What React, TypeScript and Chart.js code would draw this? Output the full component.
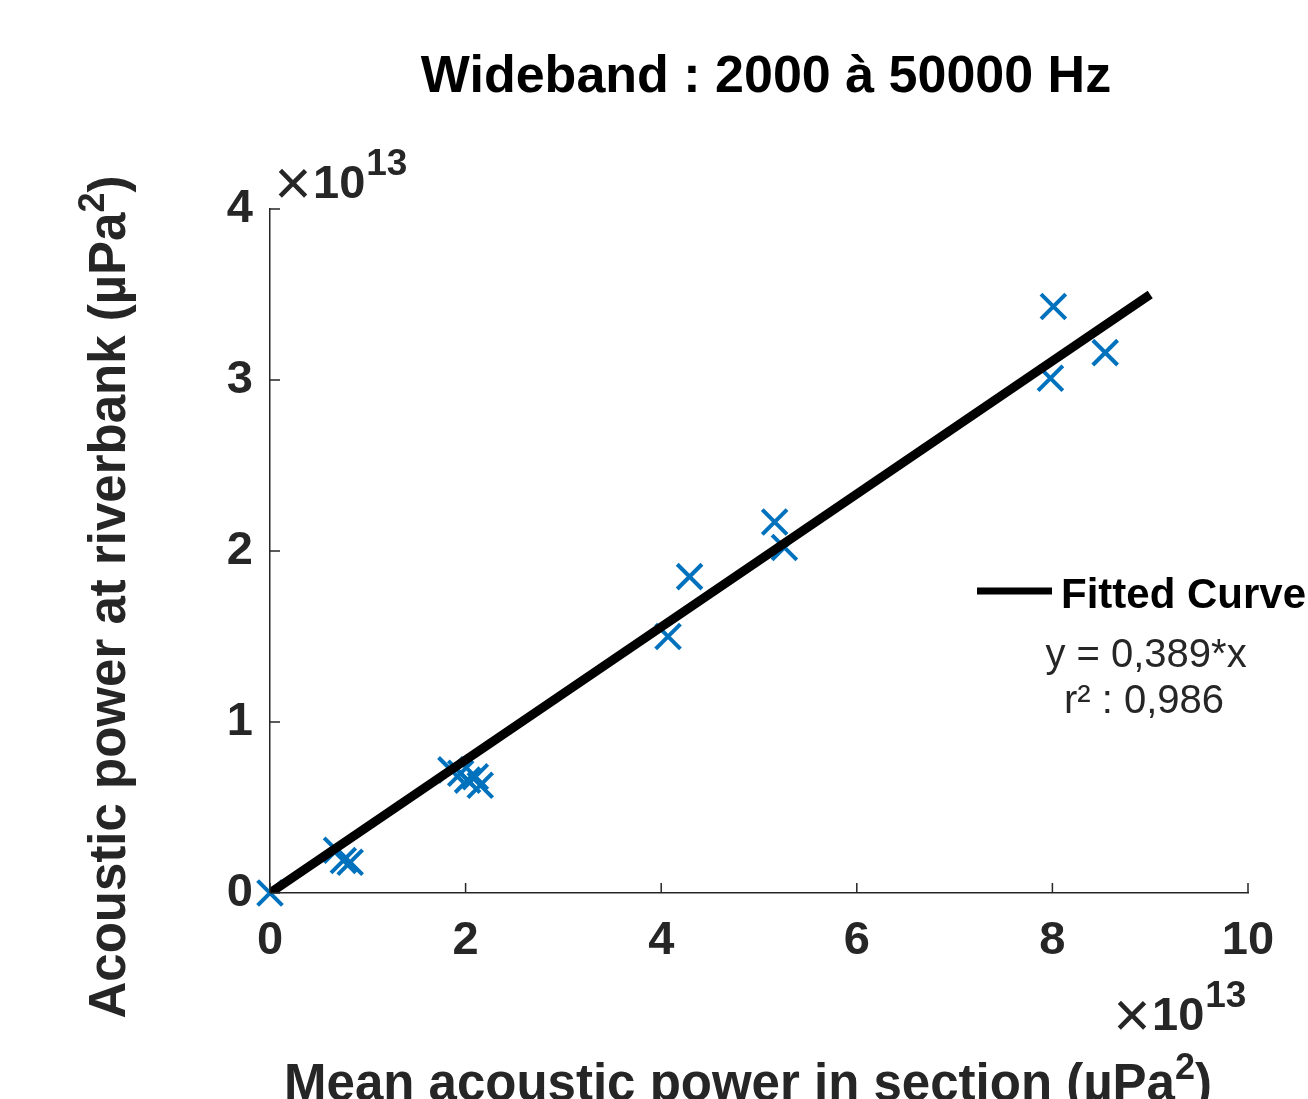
import React, { useEffect, useRef } from "react";
import { Chart, registerables } from "chart.js";

Chart.register(...registerables);

const TITLE = "Wideband : 2000 à 50000 Hz";
const X_LABEL = "Mean acoustic power in section (µPa";
const Y_LABEL = "Acoustic power at riverbank (µPa";
const LEGEND_LABEL = "Fitted Curve";
const FIT_TEXT = ["y = 0,389*x", "r² : 0,986"];

// values in units of 1e13 µPa²
const meanPower = [0, 0.68, 0.75, 0.82, 1.85, 1.95, 2.02, 2.1, 2.15, 4.07, 4.29, 5.16, 5.26, 7.98, 8.01, 8.54];
const bankPower = [0, 0.25, 0.19, 0.18, 0.72, 0.70, 0.66, 0.68, 0.63, 1.50, 1.85, 2.17, 2.02, 3.01, 3.43, 3.16];

const fitX = [0, 9];
const fitY = [0, 3.5];

const xTicks = [0, 2, 4, 6, 8, 10];
const yTicks = [0, 1, 2, 3, 4];

const FONT = '"Liberation Sans", Arial, Helvetica, sans-serif';
const AXIS_COLOR = "#262626";

function drawLabelWithSup(ctx: CanvasRenderingContext2D, main: string, sup: string, tail: string, size: number, supSize: number) {
  ctx.font = `bold ${size}px ${FONT}`;
  const w1 = ctx.measureText(main).width;
  const w3 = ctx.measureText(tail).width;
  ctx.font = `bold ${supSize}px ${FONT}`;
  const w2 = ctx.measureText(sup).width;
  const total = w1 + w2 + w3;
  let x = -total / 2;
  ctx.textAlign = "left";
  ctx.textBaseline = "alphabetic";
  ctx.font = `bold ${size}px ${FONT}`;
  ctx.fillText(main, x, 0);
  x += w1;
  ctx.font = `bold ${supSize}px ${FONT}`;
  ctx.fillText(sup, x, -size * 0.42);
  x += w2;
  ctx.font = `bold ${size}px ${FONT}`;
  ctx.fillText(tail, x, 0);
}

function drawExponent(ctx: CanvasRenderingContext2D, xTimes: number, xTen: number, baseline: number) {
  ctx.fillStyle = AXIS_COLOR;
  ctx.textAlign = "center";
  ctx.textBaseline = "middle";
  ctx.font = `64px ${FONT}`;
  ctx.fillText("×", xTimes, baseline - 11);
  ctx.textAlign = "left";
  ctx.textBaseline = "alphabetic";
  ctx.font = `bold 47px ${FONT}`;
  ctx.fillText("10", xTen, baseline);
  const w10 = ctx.measureText("10").width;
  ctx.font = `bold 37px ${FONT}`;
  ctx.fillText("13", xTen + w10 + 1, baseline - 23);
}

const decorPlugin = {
  id: "decor",
  afterDraw(chart: any) {
    const ctx: CanvasRenderingContext2D = chart.ctx;
    const xs = chart.scales.x;
    const ys = chart.scales.y;
    const area = chart.chartArea;
    ctx.save();
    // inward ticks
    ctx.strokeStyle = AXIS_COLOR;
    ctx.lineWidth = 1.5;
    ctx.beginPath();
    xTicks.forEach((v) => {
      const px = xs.getPixelForValue(v);
      ctx.moveTo(px, area.bottom);
      ctx.lineTo(px, area.bottom - 10);
    });
    yTicks.forEach((v) => {
      const py = ys.getPixelForValue(v);
      ctx.moveTo(area.left, py);
      ctx.lineTo(area.left + 10, py);
    });
    ctx.stroke();

    // title
    ctx.fillStyle = "#000";
    ctx.font = `bold 52px ${FONT}`;
    ctx.textAlign = "center";
    ctx.textBaseline = "alphabetic";
    ctx.fillText(TITLE, 766, 92);

    // x label
    ctx.fillStyle = AXIS_COLOR;
    ctx.save();
    ctx.translate(748, 1100);
    drawLabelWithSup(ctx, X_LABEL, "2", ")", 51, 36);
    ctx.restore();

    // y label
    ctx.save();
    ctx.translate(125, 597);
    ctx.rotate(-Math.PI / 2);
    drawLabelWithSup(ctx, Y_LABEL, "2", ")", 51, 36);
    ctx.restore();

    // exponents
    drawExponent(ctx, 293, 313, 198);
    drawExponent(ctx, 1132, 1152, 1030);

    // legend
    ctx.strokeStyle = "#000";
    ctx.lineWidth = 7;
    ctx.beginPath();
    ctx.moveTo(977, 591);
    ctx.lineTo(1052, 591);
    ctx.stroke();
    ctx.fillStyle = "#000";
    ctx.font = `bold 42px ${FONT}`;
    ctx.textAlign = "left";
    ctx.fillText(LEGEND_LABEL, 1061, 608);
    ctx.font = `40px ${FONT}`;
    ctx.textAlign = "center";
    ctx.fillStyle = AXIS_COLOR;
    ctx.fillText(FIT_TEXT[0], 1146, 667);
    ctx.fillText(FIT_TEXT[1], 1144, 713);
    ctx.restore();
  },
};

export default function App() {
  const ref = useRef<HTMLCanvasElement | null>(null);
  useEffect(() => {
    if (!ref.current) return;
    const chart = new Chart(ref.current, {
      type: "scatter",
      data: {
        datasets: [
          {
            type: "line",
            label: LEGEND_LABEL,
            data: fitX.map((x, i) => ({ x, y: fitY[i] })),
            borderColor: "#000",
            borderWidth: 9,
            pointRadius: 0,
            fill: false,
            order: 1,
          } as any,
          {
            label: "data",
            data: meanPower.map((x, i) => ({ x, y: bankPower[i] })),
            pointStyle: "crossRot",
            pointRadius: 17.5,
            borderColor: "#0072BD",
            backgroundColor: "#0072BD",
            pointBorderWidth: 4,
            borderWidth: 4,
            clip: false,
            order: 2,
          } as any,
        ],
      },
      options: {
        animation: false,
        responsive: false,
        devicePixelRatio: 1,
        layout: { padding: { top: 209, right: 60, left: 0, bottom: 0 } },
        plugins: { legend: { display: false }, tooltip: { enabled: false }, title: { display: false } },
        scales: {
          x: {
            type: "linear",
            min: 0,
            max: 10,
            afterFit: (s: any) => { s.height = 206; },
            afterBuildTicks: (s: any) => { s.ticks = xTicks.map((v) => ({ value: v })); },
            grid: { display: false, drawTicks: false },
            border: { display: true, color: AXIS_COLOR, width: 1.5 },
            ticks: { color: AXIS_COLOR, font: { family: FONT, size: 47, weight: "bold" }, padding: 20, maxRotation: 0 },
          },
          y: {
            type: "linear",
            min: 0,
            max: 4,
            afterFit: (s: any) => { s.width = 270; },
            afterBuildTicks: (s: any) => { s.ticks = yTicks.map((v) => ({ value: v })); },
            grid: { display: false, drawTicks: false },
            border: { display: true, color: AXIS_COLOR, width: 1.5 },
            ticks: { color: AXIS_COLOR, font: { family: FONT, size: 47, weight: "bold" }, padding: 17 },
          },
        },
      } as any,
      plugins: [decorPlugin],
    });
    return () => chart.destroy();
  }, []);
  return (
    <div style={{ position: "fixed", left: 0, top: 0, width: 1308, height: 1099, background: "#fff" }}>
      <canvas ref={ref} width={1308} height={1099} style={{ display: "block" }} />
    </div>
  );
}
